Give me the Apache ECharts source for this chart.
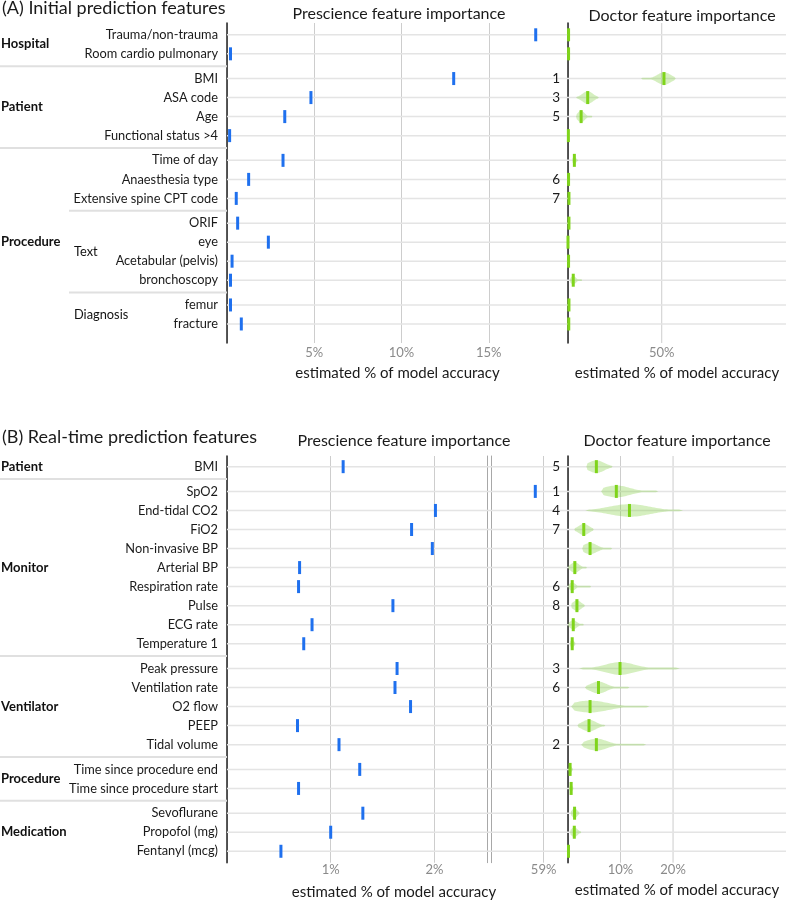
<!DOCTYPE html>
<html><head><meta charset="utf-8">
<script src="https://cdn.jsdelivr.net/npm/echarts@6/dist/echarts.min.js"></script>
<style>html,body{margin:0;padding:0;background:#fff}#c{width:786px;height:900px}</style>
</head><body><div id="c"></div>
<script>
// ================= DATA =================
const topFeatures = ['Trauma/non-trauma','Room cardio pulmonary','BMI','ASA code','Age','Functional status >4','Time of day','Anaesthesia type','Extensive spine CPT code','ORIF','eye','Acetabular (pelvis)','bronchoscopy','femur','fracture'];
const topGroups = ['Hospital','Hospital','Patient','Patient','Patient','Patient','Procedure','Procedure','Procedure','Procedure','Procedure','Procedure','Procedure','Procedure','Procedure'];
const topSubgroups = ['','','','','','','','','','Text','Text','Text','Text','Diagnosis','Diagnosis'];
const topPrescience = [17.69,0.2,12.99,4.81,3.31,0.15,3.21,1.24,0.53,0.61,2.37,0.29,0.2,0.2,0.82];
const topDoctorMedian = [0.3,0.3,51.2,10.5,7.0,0.2,3.4,0.3,0.5,0.5,0.0,0.3,2.8,0.5,0.4];
const topDoctorLow     = [null,null,39,4.3,4.3,null,2.3,null,null,null,null,null,1.0,null,null];
const topDoctorHigh    = [null,null,57.5,16.5,13,null,5.3,null,null,null,null,null,7.5,null,null];
const topDoctorSpread  = [null,null,3.5,2.8,1.8,null,0.9,null,null,null,null,null,1.4,null,null];
const topDoctorDensity = [null,null,0.9,0.9,0.85,null,0.55,null,null,null,null,null,0.6,null,null];
const topDoctorRank = ['','','1','3','5','','','6','7','','','','','',''];
const topPrescienceTicks = [5,10,15];
const topDoctorTicks = [50];

const bottomFeatures = ['BMI','SpO2','End-tidal CO2','FiO2','Non-invasive BP','Arterial BP','Respiration rate','Pulse','ECG rate','Temperature 1','Peak pressure','Ventilation rate','O2 flow','PEEP','Tidal volume','Time since procedure end','Time since procedure start','Sevoflurane','Propofol (mg)','Fentanyl (mcg)'];
const bottomGroups = ['Patient','Monitor','Monitor','Monitor','Monitor','Monitor','Monitor','Monitor','Monitor','Monitor','Ventilator','Ventilator','Ventilator','Ventilator','Ventilator','Procedure','Procedure','Medication','Medication','Medication'];
const bottomSubgroups = ['','','','','','','','','','','','','','','','','','','',''];
const bottomPrescience = [1.12,58.92,2.01,1.78,1.98,0.70,0.69,1.60,0.82,0.74,1.64,1.62,1.77,0.68,1.08,1.28,0.69,1.31,1.00,0.52];
const bottomDoctorMedian = [5.4,9.2,11.7,3.0,4.2,1.3,0.8,1.7,1.0,0.8,9.9,5.8,4.2,4.0,5.4,0.4,0.6,1.25,1.2,0.1];
const bottomDoctorLow     = [3.5,6.3,3.3,1.2,2.7,0.0,0.0,0.6,0.0,0.4,2.1,3.2,0.6,1.8,2.5,0.0,0.2,0.5,0.4,null];
const bottomDoctorHigh    = [8.5,17.2,21.9,4.9,8.4,3.6,4.4,3.2,3.0,1.4,21.3,11.7,15.5,7.1,14.9,0.95,1.0,2.2,2.5,null];
const bottomDoctorSpread  = [1.5,2.5,3.8,1.0,1.3,0.8,0.6,0.8,0.7,0.4,2.8,1.5,3.4,1.3,2.0,0.3,0.3,0.5,0.6,null];
const bottomDoctorDensity = [0.9,0.85,0.9,0.8,0.8,0.75,0.6,0.75,0.65,0.5,0.9,0.85,0.85,0.85,0.85,0.5,0.45,0.7,0.7,null];
const bottomDoctorRank = ['5','1','4','7','','','6','8','','','3','6','','','2','','','','',''];
const bottomPrescienceTicks = [1,2];
const bottomBreakTicks = [59];
const bottomDoctorTicks = [10,20];

// ================= LAYOUT / STYLE =================
const FONT = 'Lato, "Noto Sans", sans-serif';
const GAP = 0.3;             // extra row space between groups
const BLUE = '#1f70ee';
const GREEN = '#7fd41b';
const VIOLIN_FILL = 'rgba(128,205,60,0.33)';
const VIOLIN_H = 7;
const LABEL_GAP = 9, SUB_X = 74, SUB_SEP_X = 69, RANK_GAP = 8;
const LABEL_SIZE = 12.8;

function rowPositions(groups, subs) {
  const pos = []; let g = 0;
  for (let i = 0; i < groups.length; i++) {
    if (i > 0 && (groups[i] !== groups[i-1] || subs[i] !== subs[i-1])) g++;
    pos.push(i + g * GAP);
  }
  return pos;
}
function buildAnnotations(groups, subs, pos) {
  const items = [];
  let s = 0;
  for (let i = 1; i <= groups.length; i++) {
    if (i === groups.length || groups[i] !== groups[s]) {
      items.push({kind:'group', text:groups[s], p:(pos[s]+pos[i-1])/2});
      if (i < groups.length) items.push({kind:'sep', level:0, p:(pos[i-1]+pos[i])/2});
      s = i;
    }
  }
  s = 0;
  for (let i = 1; i <= subs.length; i++) {
    const brk = i === subs.length || subs[i] !== subs[s] || groups[i] !== groups[s];
    if (brk) {
      if (subs[s]) items.push({kind:'sub', text:subs[s], p:(pos[s]+pos[i-1])/2});
      if (i < subs.length && groups[i] === groups[s]) items.push({kind:'sep', level:1, p:(pos[i-1]+pos[i])/2});
      s = i;
    }
  }
  return items;
}

const topPos = rowPositions(topGroups, topSubgroups);
const botPos = rowPositions(bottomGroups, bottomSubgroups);
const topAnn = buildAnnotations(topGroups, topSubgroups, topPos);
const botAnn = buildAnnotations(bottomGroups, bottomSubgroups, botPos);

const topY = {min:-0.62, max: topPos[topPos.length-1] + 1.0};
const botY = {min:-0.56, max: botPos[botPos.length-1] + 0.6};

const P1MAX = 2.514, P2MIN = 58.5, P2MAX = 59.235;

// grids: 0 top prescience, 1 top doctor, 2 bottom prescience, 3 bottom prescience (break), 4 bottom doctor
const grids = [
  {left:227, top:23, width:341, height:320},
  {left:568, top:23, width:218, height:320},
  {left:227, top:456, width:260.7, height:406.7},
  {left:491.7, top:456, width:76.3, height:406.7},
  {left:568, top:456, width:218, height:406.7}
].map(g => Object.assign({containLabel:false, outerBoundsMode:'none'}, g));

function fmt(ticks){ return v => ticks.some(t => Math.abs(t - v) < 1e-6) ? (Math.round(v*100)/100) + '%' : ''; }
function xAx(gi, min, max, interval, ticks, split, name, nameGap) {
  return {
    type:'value', gridIndex:gi, min, max, interval,
    axisLine:{show:false}, axisTick:{show:false},
    splitLine:{show:split, lineStyle:{color:'#cdcdcd', width:1}},
    axisLabel:{formatter:fmt(ticks), color:'#8a8a8a', fontSize:13, fontFamily:FONT, margin:3},
    name: name || '', nameLocation:'middle', nameGap: nameGap || 20,
    nameTextStyle:{color:'#1a1a1a', fontSize:15, fontFamily:FONT}
  };
}
function yAx(gi, ext, color, width, position) {
  return {type:'value', gridIndex:gi, min:ext.min, max:ext.max, inverse:true, position:position||'left',
    axisLine:{show:true, onZero:false, lineStyle:{color, width}}, axisTick:{show:false},
    axisLabel:{show:false}, splitLine:{show:false}};
}
const AXNAME = 'estimated % of model accuracy';
const xAxes = [
  xAx(0, 0, 19.54, 5, topPrescienceTicks, true, AXNAME, 23),
  xAx(1, 0, 116.3, 50, topDoctorTicks, false, AXNAME, 23),
  xAx(2, 0, P1MAX, 1, bottomPrescienceTicks, true),
  xAx(3, P2MIN, P2MAX, 0.5, bottomBreakTicks, true),
  xAx(4, 0, 41.5, 10, bottomDoctorTicks, false, AXNAME, 20)
];
xAxes[2].axisLabel.margin = 1; xAxes[3].axisLabel.margin = 1; xAxes[4].axisLabel.margin = 1;
const yAxes = [
  yAx(0, topY, '#222', 1.5),
  yAx(1, topY, '#222', 1.5),
  yAx(2, botY, '#222', 1.5),
  yAx(3, botY, '#a8a8a8', 1),
  yAx(4, botY, '#222', 1.5),
  yAx(2, botY, '#a8a8a8', 1, 'right')
];

// ---------- render helpers ----------
function rowLineRender(params, api) {
  const pt = api.coord([api.value(0), api.value(1)]);
  return {type:'line', shape:{x1:pt[0], y1:pt[1], x2:api.getWidth(), y2:pt[1]}, style:{stroke:'#e4e4e4', lineWidth:1.5}};
}
function labelRender(features) {
  return (params, api) => {
    const pt = api.coord([api.value(0), api.value(1)]);
    return {type:'text', x:pt[0]-LABEL_GAP, y:pt[1], style:{text:features[params.dataIndex], fill:'#1a1a1a', fontSize:LABEL_SIZE, fontFamily:FONT, align:'right', verticalAlign:'middle'}};
  };
}
function annRender(items) {
  return (params, api) => {
    const it = items[params.dataIndex];
    const pt = api.coord([api.value(0), api.value(1)]);
    if (it.kind === 'sep') return {type:'line', shape:{x1: it.level ? SUB_SEP_X : 0, y1:pt[1], x2:pt[0], y2:pt[1]}, style:{stroke:'#e0e0e0', lineWidth:2}};
    return {type:'text', x: it.kind === 'group' ? 1 : SUB_X, y:pt[1], style:{text:it.text, fill:'#111', fontSize: it.kind==='group' ? 13 : LABEL_SIZE, fontWeight: it.kind==='group' ? 'bold' : 'normal', fontFamily:FONT, align:'left', verticalAlign:'middle'}};
  };
}
function tickRender(params, api) {
  const pt = api.coord([api.value(0), api.value(1)]);
  return {type:'rect', shape:{x:pt[0]-1.5, y:pt[1]-6.5, width:3, height:13}, style:{fill:BLUE}};
}
function rankRender(ranks) {
  return (params, api) => {
    const r = ranks[params.dataIndex];
    if (!r) return null;
    const pt = api.coord([api.value(0), api.value(1)]);
    return {type:'text', x:pt[0]-RANK_GAP, y:pt[1], style:{text:r, fill:'#1a1a1a', fontSize:13.5, fontFamily:FONT, align:'right', verticalAlign:'middle'}};
  };
}
function doctorRender(src) {
  return (params, api) => {
    const i = params.dataIndex;
    const m = api.value(0), p = api.value(1);
    const c = api.coord([m, p]);
    const children = [];
    if (src.low[i] != null) {
      const lo = src.low[i], hi = src.high[i], s = src.spread[i], d = src.density[i];
      const N = 48, top = [], bot = [];
      for (let k = 0; k <= N; k++) {
        const v = lo + (hi - lo) * k / N;
        const x = api.coord([v, p])[0];
        let hw = d * VIOLIN_H * Math.exp(-0.5 * Math.pow((v - m) / s, 2));
        hw = Math.max(hw, 0.9) * Math.min(1, k / 2, (N - k) / 2);
        top.push([x, c[1] - hw]); bot.unshift([x, c[1] + hw]);
      }
      children.push({type:'polygon', shape:{points: top.concat(bot)}, style:{fill:VIOLIN_FILL}});
    }
    children.push({type:'rect', shape:{x:c[0]-1.5, y:c[1]-6.5, width:3, height:13}, style:{fill:GREEN}});
    return {type:'group', children};
  };
}
function gridlineRender(ext) {
  return (params, api) => {
    const a = api.coord([api.value(0), ext.min]), b = api.coord([api.value(0), ext.max]);
    return {type:'line', shape:{x1:a[0], y1:a[1], x2:b[0], y2:b[1]}, style:{stroke:'#cdcdcd', lineWidth:1}};
  };
}
function cs(xi, yi, data, renderItem, z) {
  return {type:'custom', xAxisIndex:xi, yAxisIndex:yi, data, renderItem, clip:false, silent:true, z: z || 2};
}

const series = [
  cs(1, 1, topDoctorTicks.map(t => [t, 0]), gridlineRender(topY), 1),
  cs(4, 4, bottomDoctorTicks.map(t => [t, 0]), gridlineRender(botY), 1),
  cs(0, 0, topPos.map(p => [0, p]), rowLineRender, 1),
  cs(2, 2, botPos.map(p => [0, p]), rowLineRender, 1),
  cs(0, 0, topPos.map(p => [0, p]), labelRender(topFeatures)),
  cs(2, 2, botPos.map(p => [0, p]), labelRender(bottomFeatures)),
  cs(0, 0, topAnn.map(a => [0, a.p]), annRender(topAnn)),
  cs(2, 2, botAnn.map(a => [0, a.p]), annRender(botAnn)),
  cs(0, 0, topPrescience.map((v, i) => [v, topPos[i]]), tickRender, 3),
  cs(2, 2, bottomPrescience.map((v, i) => [v, botPos[i]]).filter(d => d[0] <= P1MAX), tickRender, 3),
  cs(3, 3, bottomPrescience.map((v, i) => [v, botPos[i]]).filter(d => d[0] >= P2MIN), tickRender, 3),
  cs(1, 1, topPos.map(p => [0, p]), rankRender(topDoctorRank)),
  cs(4, 4, botPos.map(p => [0, p]), rankRender(bottomDoctorRank)),
  cs(1, 1, topDoctorMedian.map((v, i) => [v, topPos[i]]), doctorRender({low:topDoctorLow, high:topDoctorHigh, spread:topDoctorSpread, density:topDoctorDensity}), 3),
  cs(4, 4, bottomDoctorMedian.map((v, i) => [v, botPos[i]]), doctorRender({low:bottomDoctorLow, high:bottomDoctorHigh, spread:bottomDoctorSpread, density:bottomDoctorDensity}), 3)
];

function title(text, x, y, size, align) {
  return {type:'text', x, y, style:{text, fill:'#1a1a1a', fontSize:size, fontFamily:FONT, align:align||'left', verticalAlign:'middle'}};
}
const graphic = [
  title('(A) Initial prediction features', 2, 8.5, 18),
  title('Prescience feature importance', 399, 13.5, 16, 'center'),
  title('Doctor feature importance', 682, 15.5, 16, 'center'),
  title('(B) Real-time prediction features', 2, 437, 18),
  title('Prescience feature importance', 404, 440.5, 16, 'center'),
  title('Doctor feature importance', 677, 440.5, 16, 'center'),
  title(AXNAME, 394, 891.7, 15, 'center')
];

const chart = echarts.init(document.getElementById('c'), null, {renderer:'canvas'});
chart.setOption({
  animation:false,
  backgroundColor:'#fff',
  textStyle:{fontFamily:FONT},
  grid:grids, xAxis:xAxes, yAxis:yAxes, series, graphic
});
</script>
</body></html>
